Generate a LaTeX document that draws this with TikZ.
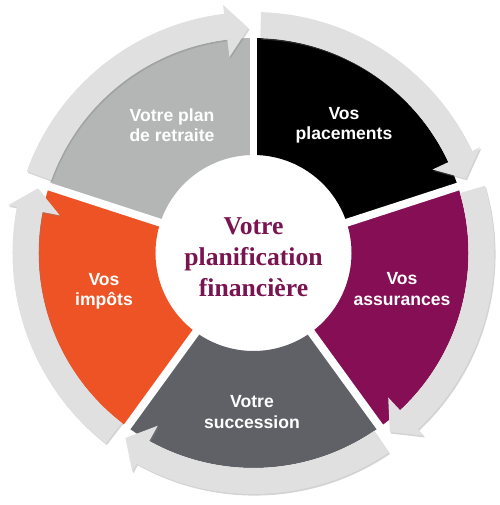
\documentclass[tikz,border=0pt]{standalone}
\usepackage{fontspec}
\setmainfont{Liberation Serif}
\setsansfont{Liberation Sans}
\usepackage{tikz}
\usetikzlibrary{shadows}
\definecolor{retraitegray}{HTML}{B4B5B5}
\definecolor{placemblack}{HTML}{000000}
\definecolor{assurpurple}{HTML}{850E55}
\definecolor{succgray}{HTML}{5F6166}
\definecolor{impotorange}{HTML}{EE5325}
\definecolor{bandgray}{HTML}{E0E0E0}
\definecolor{titrepurple}{HTML}{7A1450}

\begin{document}
\begin{tikzpicture}[font=\sffamily\bfseries\fontsize{10}{11.5}\selectfont,
  lbl/.style={white, align=center},
  ring/.style={fill=bandgray, drop shadow={opacity=0.35, shadow xshift=0.6pt, shadow yshift=-0.9pt}}]
  \useasboundingbox (-5.07,-5.04) rectangle (4.93,5.06);
  % the five coloured pieces
  \foreach \a/\b/\c in {162/90/retraitegray, 90/18/placemblack, 18/-54/assurpurple, -54/-126/succgray, -126/-198/impotorange}
    \fill[\c] (\a:1.96) -- (\a:4.3) arc[start angle=\a, end angle=\b, radius=4.3] -- (\b:1.96) arc[start angle=\b, end angle=\a, radius=1.96] -- cycle;
  \foreach \a in {90,18,-54,-126,162}
    \draw[white, line width=4.5pt] (0,0) -- (\a:4.34);
  % arrows round the ring
  \foreach \a/\b [evaluate=\a as \s using \a-1.8, evaluate=\b as \e using \b+7, evaluate=\b as \t using \b+1.3] in {162/90, 90/18, 18/-54, -54/-126, -126/-198}
    \fill[ring] (\s:4.82) arc[start angle=\s, end angle=\e, radius=4.82] -- (\e:5.0) -- (\t:4.5) -- (\e:3.95) -- (\e:4.3) arc[start angle=\e, end angle=\s, radius=4.3] -- cycle;
  \node[lbl] (retraite) at (-1.63,2.56) {Votre plan\\de retraite};
  \node[lbl] (placements) at (1.81,2.56) {Vos\\placements};
  \node[lbl] (assurances) at (2.97,-0.72) {Vos\\assurances};
  \node[lbl] (succession) at (-0.03,-3.18) {Votre\\succession};
  \node[lbl] (impots) at (-2.99,-0.76) {Vos\\impôts};
  \node[titrepurple, align=center, font=\rmfamily\bfseries\fontsize{14.6}{17.6}\selectfont] (centre) at (0,-0.08) {Votre\\planification\\financière};
\end{tikzpicture}
\end{document}
